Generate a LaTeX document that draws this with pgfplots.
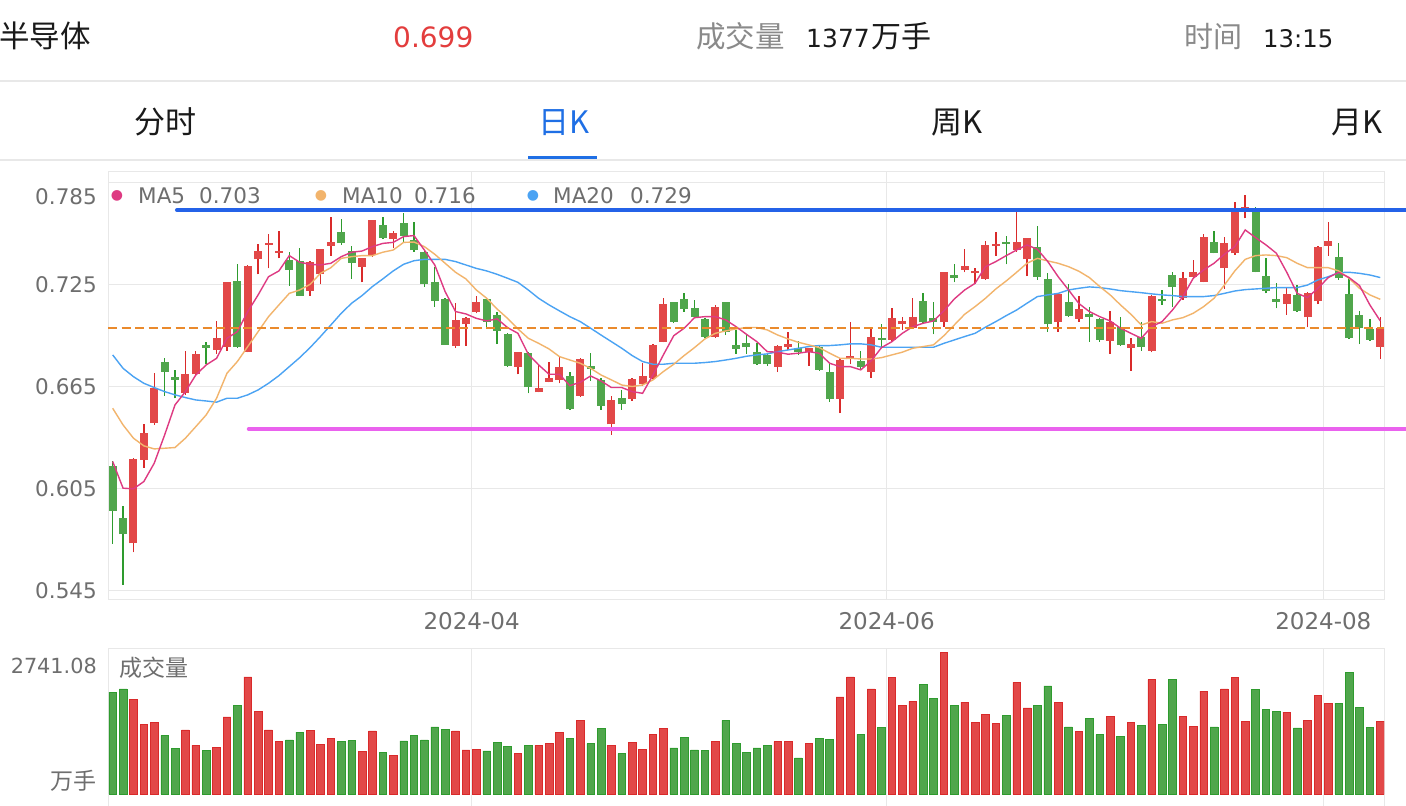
\documentclass[border=0pt]{standalone}
\usepackage{pgfplots}
\pgfplotsset{compat=1.18}
\usepackage{pgfplotstable}
\usepackage{fontspec}
\setmainfont{DejaVu Sans}
\newfontfamily\cjk{Noto Sans CJK SC}
\newcommand{\fs}[1]{\fontsize{#1}{#1}\selectfont}
\definecolor{upred}{HTML}{E24848}
\definecolor{upredd}{HTML}{D92A2A}
\definecolor{dngreen}{HTML}{50A64C}
\definecolor{dngreend}{HTML}{2E9B2E}
\definecolor{ma5c}{HTML}{DE3A82}
\definecolor{ma10c}{HTML}{F2B46C}
\definecolor{ma20c}{HTML}{4BA3F3}
\definecolor{gridc}{HTML}{E8E8E8}
\definecolor{txtgray}{HTML}{6E6E6E}
\definecolor{lightgray2}{HTML}{8A8A8A}
\definecolor{lineblue}{HTML}{2462E8}
\definecolor{linemag}{HTML}{EA62EE}
\definecolor{dashor}{HTML}{EA8A2C}
\definecolor{tabblue}{HTML}{1F6FE5}
\definecolor{pricered}{HTML}{E33D3D}
\definecolor{darktxt}{HTML}{1A1A1A}

\pgfplotstableread{
i o h l c
2 0.5725 0.6225 0.5672 0.6221
3 0.6215 0.6425 0.6170 0.6372
4 0.6431 0.6725 0.6421 0.6637
7 0.6611 0.6856 0.6598 0.6719
8 0.6719 0.6856 0.6711 0.6839
10 0.6862 0.7035 0.6839 0.6931
11 0.6882 0.7264 0.6858 0.7260
13 0.6852 0.7362 0.6848 0.7358
14 0.7395 0.7484 0.7307 0.7446
15 0.7480 0.7542 0.7342 0.7490
16 0.7434 0.7562 0.7401 0.7446
19 0.7209 0.7387 0.7180 0.7378
20 0.7307 0.7456 0.7248 0.7456
21 0.7474 0.7642 0.7417 0.7499
24 0.7352 0.7405 0.7260 0.7405
25 0.7421 0.7627 0.7411 0.7627
27 0.7515 0.7562 0.7460 0.7552
33 0.6886 0.7137 0.6876 0.7039
34 0.7013 0.7058 0.6888 0.7052
35 0.7084 0.7180 0.7078 0.7146
39 0.6764 0.6852 0.6719 0.6848
41 0.6613 0.6778 0.6613 0.6637
42 0.6676 0.6794 0.6672 0.6696
43 0.6686 0.6823 0.6666 0.6764
45 0.6594 0.6813 0.6588 0.6809
48 0.6425 0.6592 0.6362 0.6568
50 0.6574 0.6696 0.6562 0.6692
51 0.6660 0.6784 0.6652 0.6711
52 0.6696 0.6896 0.6692 0.6892
53 0.6911 0.7166 0.6907 0.7131
58 0.6941 0.7127 0.6935 0.7117
64 0.6764 0.6892 0.6731 0.6888
65 0.6882 0.6966 0.6862 0.6899
67 0.6848 0.6876 0.6768 0.6872
70 0.6574 0.6813 0.6490 0.6803
71 0.6807 0.7029 0.6778 0.6827
73 0.6735 0.6990 0.6700 0.6941
75 0.6921 0.7107 0.6915 0.7048
76 0.7013 0.7058 0.6980 0.7033
77 0.6990 0.7166 0.6986 0.7058
80 0.7029 0.7323 0.6999 0.7319
82 0.7333 0.7454 0.7319 0.7358
83 0.7313 0.7342 0.7248 0.7327
84 0.7280 0.7503 0.7274 0.7480
85 0.7476 0.7554 0.7417 0.7484
87 0.7450 0.7672 0.7440 0.7495
88 0.7395 0.7523 0.7297 0.7519
91 0.7025 0.7195 0.6970 0.7190
93 0.7045 0.7182 0.7029 0.7103
96 0.6917 0.7094 0.6839 0.7029
98 0.6876 0.6931 0.6741 0.6896
100 0.6858 0.7186 0.6848 0.7182
103 0.7166 0.7319 0.7156 0.7287
104 0.7293 0.7391 0.7283 0.7319
105 0.7264 0.7542 0.7260 0.7529
107 0.7342 0.7525 0.7221 0.7490
108 0.7430 0.7734 0.7421 0.7672
109 0.7689 0.7774 0.7636 0.7701
113 0.7131 0.7229 0.7068 0.7190
115 0.7054 0.7205 0.6995 0.7195
116 0.7150 0.7476 0.7131 0.7470
117 0.7474 0.7613 0.7417 0.7505
122 0.6882 0.7054 0.6809 0.6990
}\redc

\pgfplotstableread{
i o h l c
0 0.6180 0.6206 0.5721 0.5917
1 0.5872 0.5947 0.5480 0.5778
5 0.6790 0.6817 0.6592 0.6735
6 0.6701 0.6745 0.6578 0.6686
9 0.6892 0.6907 0.6778 0.6876
12 0.7270 0.7366 0.6876 0.6882
17 0.7391 0.7440 0.7240 0.7333
18 0.7386 0.7464 0.7182 0.7182
22 0.7558 0.7630 0.7480 0.7490
23 0.7444 0.7476 0.7280 0.7376
26 0.7597 0.7642 0.7515 0.7523
28 0.7607 0.7670 0.7499 0.7535
29 0.7509 0.7617 0.7440 0.7450
30 0.7436 0.7450 0.7235 0.7248
31 0.7260 0.7352 0.7117 0.7150
32 0.7160 0.7166 0.6892 0.6892
36 0.7162 0.7166 0.6990 0.7029
37 0.7068 0.7088 0.6897 0.6976
38 0.6954 0.6960 0.6764 0.6770
40 0.6843 0.6848 0.6607 0.6643
44 0.6711 0.6735 0.6509 0.6513
46 0.6770 0.6843 0.6680 0.6750
47 0.6686 0.6696 0.6509 0.6535
49 0.6578 0.6627 0.6509 0.6543
54 0.7142 0.7146 0.7020 0.7029
55 0.7160 0.7195 0.7088 0.7103
56 0.7107 0.7156 0.7048 0.7058
57 0.7045 0.7048 0.6931 0.6941
59 0.7142 0.7146 0.6950 0.6970
60 0.6892 0.6980 0.6839 0.6868
61 0.6901 0.6950 0.6839 0.6878
62 0.6848 0.6901 0.6774 0.6778
63 0.6833 0.6843 0.6768 0.6778
66 0.6876 0.6915 0.6833 0.6848
68 0.6882 0.6892 0.6741 0.6745
69 0.6731 0.6778 0.6558 0.6572
72 0.6797 0.6856 0.6750 0.6760
74 0.6931 0.7013 0.6882 0.6921
78 0.7150 0.7195 0.7019 0.7025
79 0.7048 0.7146 0.6954 0.7025
81 0.7303 0.7366 0.7260 0.7287
86 0.7499 0.7535 0.7366 0.7486
89 0.7470 0.7593 0.7274 0.7293
90 0.7280 0.7313 0.6970 0.7013
92 0.7142 0.7248 0.7058 0.7062
94 0.7072 0.7117 0.6911 0.7058
95 0.7043 0.7048 0.6911 0.6921
97 0.6999 0.7054 0.6888 0.6892
99 0.6941 0.7025 0.6858 0.6882
101 0.7160 0.7215 0.7127 0.7152
102 0.7303 0.7319 0.7117 0.7235
106 0.7499 0.7562 0.7430 0.7434
110 0.7699 0.7705 0.7319 0.7323
111 0.7299 0.7405 0.7195 0.7209
112 0.7160 0.7254 0.7107 0.7146
114 0.7186 0.7244 0.7088 0.7092
118 0.7407 0.7493 0.7274 0.7284
119 0.7190 0.7293 0.6927 0.6931
120 0.7068 0.7094 0.6897 0.6990
121 0.6986 0.7045 0.6915 0.6921
}\greenc

\pgfplotstableread{
i ma5 ma10 ma20
0 0.6206 0.6519 0.6833
1 0.6049 0.6421 0.6754
2 0.6045 0.6343 0.6705
3 0.6088 0.6298 0.6666
4 0.6196 0.6280 0.6641
5 0.6362 0.6284 0.6617
6 0.6539 0.6288 0.6598
7 0.6617 0.6343 0.6582
8 0.6715 0.6411 0.6568
9 0.6774 0.6480 0.6562
10 0.6813 0.6578 0.6555
11 0.6931 0.6725 0.6578
12 0.6970 0.6794 0.6578
13 0.7088 0.6882 0.6598
14 0.7186 0.6970 0.6627
15 0.7293 0.7058 0.6666
16 0.7327 0.7127 0.6711
17 0.7417 0.7195 0.6764
18 0.7378 0.7215 0.6817
19 0.7366 0.7248 0.6876
20 0.7362 0.7313 0.6941
21 0.7372 0.7346 0.7009
22 0.7411 0.7401 0.7078
23 0.7437 0.7411 0.7137
24 0.7444 0.7417 0.7182
25 0.7470 0.7417 0.7235
26 0.7489 0.7437 0.7280
27 0.7495 0.7450 0.7327
28 0.7529 0.7495 0.7366
29 0.7535 0.7497 0.7387
30 0.7450 0.7470 0.7395
31 0.7362 0.7425 0.7395
32 0.7205 0.7372 0.7395
33 0.7088 0.7319 0.7382
34 0.7074 0.7280 0.7362
35 0.7048 0.7215 0.7342
36 0.7033 0.7166 0.7327
37 0.7045 0.7103 0.7307
38 0.6994 0.7048 0.7284
39 0.6960 0.6986 0.7260
40 0.6837 0.6931 0.7215
41 0.6774 0.6901 0.7166
42 0.6719 0.6868 0.7127
43 0.6719 0.6823 0.7092
44 0.6652 0.6803 0.7058
45 0.6672 0.6784 0.7029
46 0.6709 0.6754 0.6990
47 0.6680 0.6715 0.6950
48 0.6641 0.6686 0.6911
49 0.6641 0.6656 0.6872
50 0.6617 0.6647 0.6829
51 0.6607 0.6656 0.6794
52 0.6715 0.6686 0.6778
53 0.6833 0.6735 0.6778
54 0.6946 0.6778 0.6784
55 0.6990 0.6829 0.6784
56 0.7052 0.6876 0.6784
57 0.7058 0.6927 0.6788
58 0.7058 0.6960 0.6794
59 0.7039 0.6974 0.6803
60 0.6999 0.6986 0.6813
61 0.6954 0.6994 0.6825
62 0.6911 0.6994 0.6833
63 0.6852 0.6980 0.6839
64 0.6849 0.6950 0.6852
65 0.6837 0.6927 0.6862
66 0.6843 0.6907 0.6872
67 0.6852 0.6892 0.6882
68 0.6843 0.6876 0.6888
69 0.6784 0.6843 0.6888
70 0.6764 0.6813 0.6892
71 0.6764 0.6813 0.6898
72 0.6745 0.6809 0.6898
73 0.6798 0.6809 0.6892
74 0.6876 0.6817 0.6878
75 0.6911 0.6833 0.6878
76 0.6960 0.6849 0.6878
77 0.6999 0.6872 0.6878
78 0.7019 0.6882 0.6878
79 0.7033 0.6892 0.6878
80 0.7092 0.6946 0.6901
81 0.7162 0.7009 0.6921
82 0.7215 0.7072 0.6941
83 0.7254 0.7117 0.6960
84 0.7352 0.7166 0.6996
85 0.7382 0.7221 0.7029
86 0.7417 0.7268 0.7064
87 0.7450 0.7319 0.7097
88 0.7480 0.7372 0.7137
89 0.7454 0.7401 0.7176
90 0.7382 0.7386 0.7186
91 0.7293 0.7372 0.7195
92 0.7215 0.7352 0.7215
93 0.7135 0.7325 0.7225
94 0.7088 0.7288 0.7233
95 0.7058 0.7235 0.7229
96 0.7033 0.7186 0.7221
97 0.6990 0.7127 0.7211
98 0.6960 0.7072 0.7205
99 0.6931 0.7009 0.7199
100 0.6999 0.7029 0.7192
101 0.7029 0.7019 0.7186
102 0.7097 0.7039 0.7182
103 0.7176 0.7052 0.7176
104 0.7284 0.7078 0.7176
105 0.7333 0.7117 0.7176
106 0.7372 0.7166 0.7182
107 0.7425 0.7244 0.7195
108 0.7470 0.7327 0.7209
109 0.7568 0.7395 0.7217
110 0.7523 0.7417 0.7221
111 0.7480 0.7421 0.7225
112 0.7431 0.7417 0.7229
113 0.7319 0.7405 0.7229
114 0.7195 0.7372 0.7229
115 0.7170 0.7346 0.7244
116 0.7225 0.7346 0.7274
117 0.7288 0.7346 0.7293
118 0.7319 0.7327 0.7317
119 0.7288 0.7284 0.7319
120 0.7241 0.7225 0.7313
121 0.7127 0.7186 0.7303
122 0.7033 0.7160 0.7288
}\matab

\pgfplotstableread{
i v
2 1783
3 1323
4 1348
7 1210
8 920
10 876
11 1456
13 2212
14 1569
15 1210
16 989
19 1203
20 945
21 1046
24 800
25 1191
27 725
33 1191
34 832
35 838
39 762
41 920
42 964
43 1166
45 1386
48 914
50 970
51 844
52 1122
53 1235
58 996
64 989
65 996
67 951
70 1834
71 2212
73 1985
75 2199
76 1670
77 1752
80 2678
82 1739
83 1361
84 1500
85 1342
87 2111
88 1626
91 1739
93 1178
96 1474
98 1361
100 2161
103 1474
104 1273
105 1947
107 1985
108 2205
109 1374
113 1550
115 1386
116 1865
117 1720
122 1377
}\redvol

\pgfplotstableread{
i v
0 1928
1 1985
5 1109
6 863
9 825
12 1682
17 1021
18 1172
22 989
23 1008
26 788
28 1002
29 1103
30 1021
31 1267
32 1216
36 813
37 970
38 901
40 920
44 1052
46 951
47 1235
49 762
54 870
55 1065
56 832
57 819
59 1393
60 951
61 788
62 870
63 914
66 681
68 1052
69 1027
72 1128
74 1254
78 2079
79 1802
81 1670
86 1493
89 1676
90 2042
92 1267
94 1424
95 1122
97 1096
99 1292
101 1311
102 2161
106 1267
110 1972
111 1594
112 1556
114 1248
118 1720
119 2306
120 1638
121 1254
}\greenvol

\pgfplotsset{candle/.style={only marks, mark=*, mark size=0pt,
  mark options={draw opacity=0, fill opacity=0}, forget plot}}

\begin{document}
\begin{tikzpicture}
\useasboundingbox (0,0) rectangle (1406pt,806pt);
\fill[white] (0,0) rectangle (1406pt,806pt);

% ---------- header ----------
\node[anchor=base west, inner sep=0pt, font={\cjk\fs{30.5}}, text=darktxt] at (-1pt,758.5pt) {半导体};
\node[anchor=base west, inner sep=0pt, font={\fs{28}}, text=pricered] at (393pt,758.5pt) {0.699};
\node[anchor=base west, inner sep=0pt, font={\cjk\fs{29.5}}, text=lightgray2] at (696pt,758.5pt) {成交量};
\node[anchor=base west, inner sep=0pt, font={\fs{25}}, text=darktxt] at (806pt,758.5pt) {1377};
\node[anchor=base west, inner sep=0pt, font={\cjk\fs{30}}, text=darktxt] at (871pt,758.5pt) {万手};
\node[anchor=base west, inner sep=0pt, font={\cjk\fs{29}}, text=lightgray2] at (1184pt,758.5pt) {时间};
\node[anchor=base west, inner sep=0pt, font={\fs{24.3}}, text=darktxt] at (1263pt,758.5pt) {13:15};
\draw[gridc, line width=1.5pt] (0,725pt) -- (1406pt,725pt);
\node[anchor=base west, inner sep=0pt, font={\cjk\fs{31}}, text=darktxt] at (134pt,672pt) {分时};
\node[anchor=base west, inner sep=0pt, font={\cjk\fs{31}}, text=tabblue] at (538pt,672pt) {日K};
\node[anchor=base west, inner sep=0pt, font={\cjk\fs{31}}, text=darktxt] at (931pt,672pt) {周K};
\node[anchor=base west, inner sep=0pt, font={\cjk\fs{31}}, text=darktxt] at (1331pt,672pt) {月K};
\draw[gridc, line width=1.5pt] (0,646pt) -- (1406pt,646pt);
\fill[tabblue] (528pt,646.5pt) rectangle (597pt,650pt);

% ---------- price axis ----------
\begin{axis}[
  at={(108pt,206pt)}, anchor=south west, scale only axis,
  width=1276pt, height=428pt,
  xmin=-0.45, xmax=122.36, ymin=0.53912, ymax=0.7909,
  clip=false,
  axis line style={draw=gridc, line width=1pt},
  tick style={draw=none},
  xtick={34.55,74.49,116.52}, xticklabels={2024-04,2024-06,2024-08},
  ytick={0.545,0.605,0.665,0.725}, yticklabels={0.545,0.605,0.665,0.725},
  extra y ticks={0.785}, extra y tick labels={0.785},
  extra y tick style={yticklabel style={yshift=-14pt}},
  grid=major, major grid style={draw=gridc, line width=1pt},
  xticklabel style={font=\fs{23}, text=txtgray, inner sep=0pt, yshift=-12pt},
  yticklabel style={font=\fs{21.5}, text=txtgray, inner sep=0pt, xshift=-11pt, yshift=-1pt},
]
% green candles
\addplot[dngreen, candle,
  error bars/.cd, y dir=plus, y explicit, error mark=none,
  error bar style={line width=1.4pt, dngreend}]
  table[x=i, y=l, y error plus expr={\thisrow{h}-\thisrow{l}}] {\greenc};
\addplot[dngreen, candle,
  error bars/.cd, y dir=plus, y explicit, error mark=none,
  error bar style={line width=8pt, dngreen}]
  table[x=i, y=c, y error plus expr={\thisrow{o}-\thisrow{c}}] {\greenc};
% red candles
\addplot[upred, candle,
  error bars/.cd, y dir=plus, y explicit, error mark=none,
  error bar style={line width=1.4pt, upredd}]
  table[x=i, y=l, y error plus expr={\thisrow{h}-\thisrow{l}}] {\redc};
\addplot[upred, candle,
  error bars/.cd, y dir=plus, y explicit, error mark=none,
  error bar style={line width=8pt, upred}]
  table[x=i, y=o, y error plus expr={\thisrow{c}-\thisrow{o}}] {\redc};
% moving averages
\addplot[ma20c, line width=1.4pt, mark=none] table[x=i, y=ma20] {\matab};
\addplot[ma10c, line width=1.4pt, mark=none] table[x=i, y=ma10] {\matab};
\addplot[ma5c, line width=1.4pt, mark=none] table[x=i, y=ma5] {\matab};
% reference lines
\addplot[dashor, line width=1.5pt, dash pattern=on 9pt off 4.5pt, mark=none] coordinates {(-0.45,0.699) (122.36,0.699)};
\addplot[lineblue, line width=4pt, mark=none, line cap=round] coordinates {(6.19,0.7685) (124.6,0.7685)};
\addplot[linemag, line width=4pt, mark=none, line cap=round] coordinates {(13.1,0.6397) (124.6,0.6397)};
\end{axis}

% legend of moving averages
\node[inner sep=0pt, font={\fs{14}}, text=ma5c] at (117pt,610.5pt) {●};
\node[anchor=base west, inner sep=0pt, font={\fs{21.5}}, text=txtgray] at (138pt,602.7pt) {MA5};
\node[anchor=base west, inner sep=0pt, font={\fs{21.5}}, text=txtgray] at (199pt,602.7pt) {0.703};
\node[inner sep=0pt, font={\fs{14}}, text=ma10c] at (321pt,610.5pt) {●};
\node[anchor=base west, inner sep=0pt, font={\fs{21.5}}, text=txtgray] at (342pt,602.7pt) {MA10};
\node[anchor=base west, inner sep=0pt, font={\fs{21.5}}, text=txtgray] at (414pt,602.7pt) {0.716};
\node[inner sep=0pt, font={\fs{14}}, text=ma20c] at (533pt,610.5pt) {●};
\node[anchor=base west, inner sep=0pt, font={\fs{21.5}}, text=txtgray] at (553pt,602.7pt) {MA20};
\node[anchor=base west, inner sep=0pt, font={\fs{21.5}}, text=txtgray] at (630pt,602.7pt) {0.729};

% ---------- volume axis ----------
\begin{axis}[
  at={(108pt,-5pt)}, anchor=south west, scale only axis,
  width=1276pt, height=162pt,
  xmin=-0.45, xmax=122.36, ymin=-321.4, ymax=2741.08,
  axis line style={draw=gridc, line width=1pt},
  tick style={draw=none},
  xtick={34.55,74.49,116.52}, xticklabels={},
  ytick=\empty,
  xmajorgrids, major grid style={draw=gridc, line width=1pt},
]
\addplot[ybar, bar shift=0pt, bar width=7.6pt, fill=dngreen, draw=dngreend, line width=0.6pt] table[x=i, y=v] {\greenvol};
\addplot[ybar, bar shift=0pt, bar width=7.6pt, fill=upred, draw=upredd, line width=0.6pt] table[x=i, y=v] {\redvol};
\end{axis}
\node[anchor=east, inner sep=0pt, font={\fs{20.8}}, text=txtgray] at (97pt,140pt) {2741.08};
\node[anchor=east, inner sep=0pt, font={\cjk\fs{23}}, text=txtgray] at (97pt,25pt) {万手};
\node[anchor=west, inner sep=0pt, font={\cjk\fs{23}}, text=txtgray] at (119pt,138pt) {成交量};
\end{tikzpicture}
\end{document}
